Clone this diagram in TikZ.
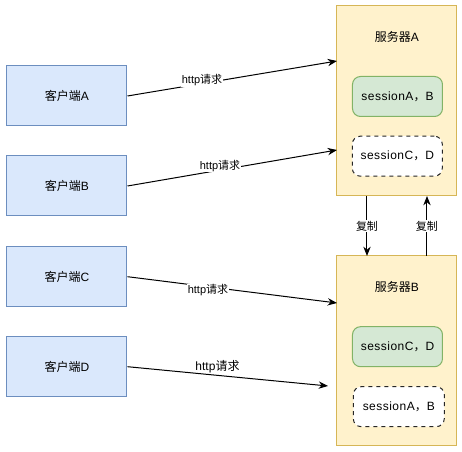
\documentclass[tikz,border=0pt]{standalone}
\usepackage{fontspec}
\setmainfont{Liberation Sans}
\newfontfamily\cjk{Noto Sans CJK SC}
\newfontfamily\sessfont[LetterSpace=4]{Liberation Sans}
\usetikzlibrary{arrows.meta}
\definecolor{cfill}{HTML}{DAE8FC}
\definecolor{cdraw}{HTML}{6C8EBF}
\definecolor{sfill}{HTML}{FFF2CC}
\definecolor{sdraw}{HTML}{D6B656}
\definecolor{gfill}{HTML}{D5E8D4}
\definecolor{gdraw}{HTML}{82B366}
\begin{document}
\begin{tikzpicture}[x=0.75pt,y=-0.75pt,
  client/.style={draw=cdraw,fill=cfill,line width=0.75pt,minimum width=90pt,minimum height=45pt,inner sep=0pt,font=\fontsize{9pt}{11pt}\selectfont},
  server/.style={draw=sdraw,fill=sfill,line width=0.75pt,minimum width=90pt,minimum height=142.5pt,inner sep=0pt},
  sessg/.style={draw=gdraw,fill=gfill,line width=0.75pt,rounded corners=6pt,minimum width=67.5pt,minimum height=30pt,inner sep=0pt,font=\fontsize{9pt}{11pt}\selectfont\sessfont},
  sessd/.style={draw=black!85,fill=white,dashed,line width=0.75pt,rounded corners=6pt,minimum width=67.5pt,minimum height=30pt,inner sep=0pt,font=\fontsize{9pt}{11pt}\selectfont\sessfont},
  title/.style={font=\fontsize{9pt}{11pt}\selectfont,inner sep=0pt},
  lbl/.style={fill=white,inner sep=0.5pt,font=\fontsize{8.25pt}{10pt}\selectfont},
  conn/.style={line width=0.75pt,-{Stealth[length=7pt,width=5.5pt]}},
]
\useasboundingbox (0,0) rectangle (462,452);
% clients
\node[client] (ca) at (67,96) {{\cjk 客户端}A};
\node[client] (cb) at (67,186) {{\cjk 客户端}B};
\node[client] (cc) at (67,276.7) {{\cjk 客户端}C};
\node[client] (cd) at (67,366.7) {{\cjk 客户端}D};
% servers
\node[server] (sa) at (397,101) {};
\node[server] (sb) at (397,351) {};
\node[title] (ta) at (397,37) {{\cjk 服务器}A};
\node[title] (tb) at (397,287) {{\cjk 服务器}B};
\node[sessg] (ga) at (397.5,96.5) {sessionA{\cjk ，}B};
\node[sessd] (da) at (397.3,156.2) {sessionC{\cjk ，}D};
\node[sessg] (gb) at (397.5,346.7) {sessionC{\cjk ，}D};
\node[sessd,minimum width=68.25pt] (db) at (398.8,406.7) {sessionA{\cjk ，}B};
% endpoints
\coordinate (ea) at (337,61);
\coordinate (eb) at (337,150);
\coordinate (ec) at (337,303);
\coordinate (ed) at (328,386);
\coordinate (ra1) at (367,196);
\coordinate (rb1) at (367,256);
\coordinate (rb2) at (427,256);
\coordinate (ra2) at (427,196);
% connectors
\draw[conn] (ca.east) -- (ea);
\draw[conn] (cb.east) -- (eb);
\draw[conn] (cc.east) -- (ec);
\draw[conn] (cd.east) -- (ed);
\draw[conn] (ra1) -- (rb1);
\draw[conn] (rb2) -- (ra2);
% labels
\node[lbl] (la) at (202,80.5) {http{\cjk 请求}};
\node[lbl] (lb) at (220,166) {http{\cjk 请求}};
\node[lbl] (lc) at (208,290.5) {http{\cjk 请求}};
\node[lbl,fill=none,font=\fontsize{9pt}{11pt}\selectfont] (ld) at (217.5,366.5) {http{\cjk 请求}};
\node[lbl] (lr1) at (367,226) {{\cjk 复制}};
\node[lbl] (lr2) at (427,226) {{\cjk 复制}};
\end{tikzpicture}
\end{document}
